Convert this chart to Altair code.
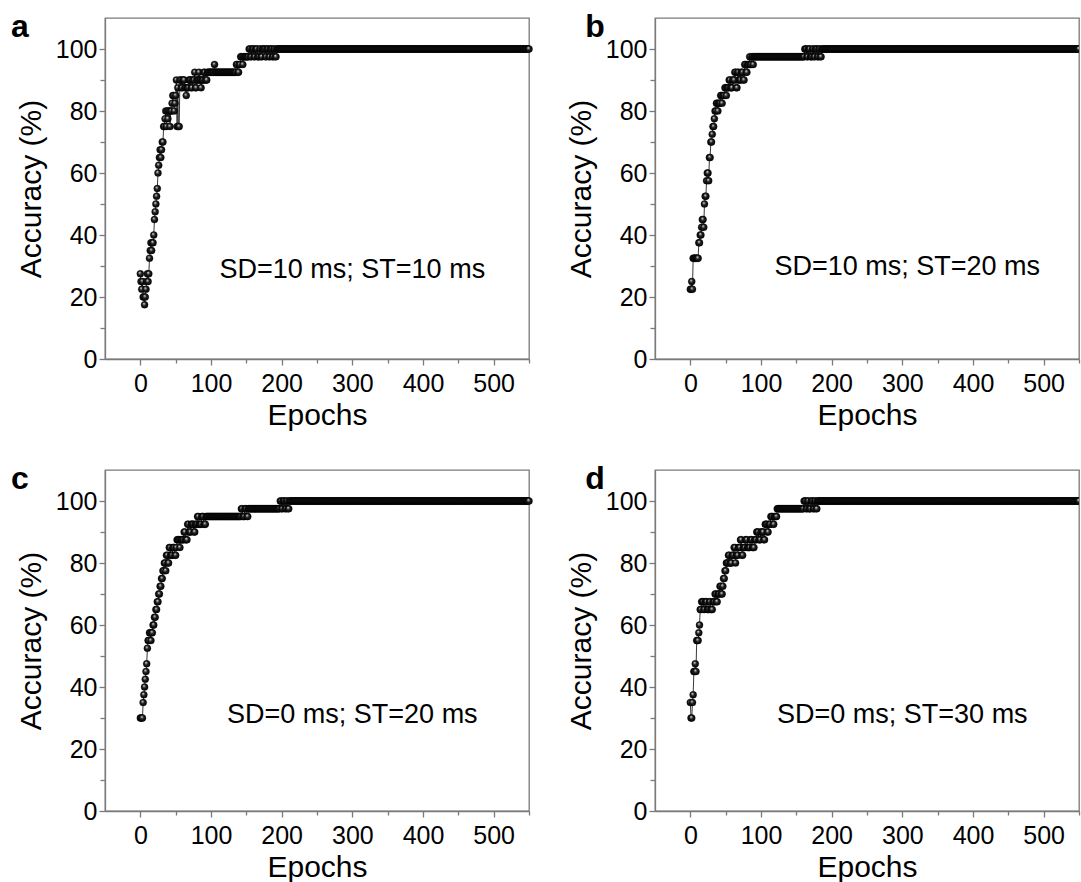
import altair as alt
import pandas as pd

FONT = "Liberation Sans"

# ---- panel a : SD=10 ms; ST=10 ms  (accuracy level, number of consecutive epochs)
a_acc = [27.5, 25, 22.5, 25, 20, 17.5, 20, 22.5, 25, 27.5, 25, 27.5, 32.5, 35, 37.5, 35, 37.5,
         40, 45, 47.5, 50, 52.5, 55, 60, 62.5, 65, 67.5, 65, 67.5, 70, 75,
         77.5, 80, 75, 80, 77.5, 80, 75, 80, 82.5, 85, 80, 82.5, 85,
         90, 75, 87.5, 75, 90, 87.5, 90, 87.5, 85, 87.5, 90, 87.5, 90, 92.5, 87.5, 90, 92.5, 90,
         87.5, 90, 92.5, 90, 92.5,
         92.5, 95, 92.5,
         95, 92.5, 95, 97.5, 95, 97.5,
         100, 97.5, 100, 97.5, 100, 97.5, 100, 97.5, 100, 97.5, 100, 97.5, 100, 97.5, 100, 97.5,
         100]
a_len = [1, 1, 1, 1, 2, 1, 1, 1, 1, 1, 1, 1, 1, 1, 1, 1, 2,
         1, 1, 1, 1, 1, 1, 1, 1, 1, 1, 1, 1, 2, 2,
         1, 1, 1, 1, 1, 2, 1, 2, 1, 2, 1, 1, 1,
         1, 1, 1, 2, 2, 2, 3, 2, 1, 3, 3, 2, 3, 1, 2, 3, 1, 2,
         1, 3, 2, 3, 1,
         9, 1, 30,
         2, 2, 2, 3, 1, 8,
         2, 2, 3, 2, 3, 3, 2, 2, 4, 2, 3, 2, 3, 2, 2, 2,
         358]

# ---- panel b : SD=10 ms; ST=20 ms
b_acc = [22.5, 25, 22.5, 32.5, 37.5, 40, 42.5, 45, 42.5, 50, 52.5, 57.5, 60, 57.5, 65, 70, 72.5,
         75, 77.5, 80, 82.5, 80, 82.5, 85, 82.5, 85, 87.5, 85, 87.5, 90, 87.5, 90, 92.5, 87.5,
         92.5, 90, 92.5, 90, 95, 92.5, 95, 97.5, 95, 97.5, 95, 97.5,
         100, 97.5, 100, 97.5, 100, 97.5, 100, 97.5, 100, 97.5,
         100]
b_len = [2, 1, 1, 8, 2, 2, 1, 2, 1, 1, 2, 1, 2, 1, 2, 2, 1,
         2, 1, 2, 2, 1, 3, 2, 1, 3, 2, 1, 3, 2, 3, 3, 2, 2,
         2, 3, 3, 2, 2, 2, 3, 1, 2, 2, 1, 72,
         3, 2, 3, 3, 2, 2, 3, 2, 2, 2,
         365]

# ---- panel c : SD=0 ms; ST=20 ms
c_acc = [30, 35, 37.5, 40, 42.5, 45, 47.5, 52.5, 55, 57.5, 55, 57.5, 60, 62.5, 65, 67.5, 70,
         72.5, 75, 77.5, 80, 77.5, 82.5, 80, 85, 82.5, 85, 82.5, 85, 87.5, 85, 87.5, 90, 87.5,
         92.5, 90, 92.5, 90, 92.5, 95, 92.5, 95, 92.5, 95,
         97.5, 95, 97.5, 95, 97.5,
         100, 97.5, 100, 97.5, 100, 97.5,
         100]
c_len = [4, 1, 1, 1, 1, 1, 1, 1, 2, 2, 1, 2, 2, 2, 2, 2, 2,
         2, 2, 2, 2, 1, 2, 2, 2, 3, 3, 2, 1, 4, 1, 5, 2, 3,
         2, 3, 4, 2, 3, 2, 4, 3, 3, 50,
         2, 3, 3, 2, 45,
         2, 2, 3, 2, 2, 2,
         340]

# ---- panel d : SD=0 ms; ST=30 ms
d_acc = [35, 30, 35, 37.5, 45, 47.5, 45, 55, 57.5, 60, 65, 67.5, 65, 67.5, 65, 67.5, 65, 67.5,
         70, 67.5, 70, 72.5, 70, 72.5, 75, 77.5, 80, 82.5, 80, 82.5, 85, 80, 82.5, 85, 87.5,
         82.5, 85, 87.5, 85, 87.5, 85, 87.5, 90, 87.5, 90, 87.5, 92.5, 90, 92.5, 95, 92.5, 95,
         97.5,
         100, 97.5, 100, 97.5, 100, 97.5, 100, 97.5,
         100]
d_len = [1, 2, 1, 1, 2, 1, 1, 3, 1, 1, 2, 3, 2, 3, 3, 2, 3, 3,
         2, 2, 3, 2, 2, 1, 2, 2, 3, 2, 3, 3, 2, 1, 3, 3, 2,
         2, 3, 3, 4, 3, 3, 3, 3, 3, 4, 2, 3, 2, 3, 3, 2, 4,
         38,
         3, 2, 2, 3, 3, 2, 2, 2,
         371]

labels = ["SD=10 ms; ST=10 ms", "SD=10 ms; ST=20 ms", "SD=0 ms; ST=20 ms", "SD=0 ms; ST=30 ms"]
label_epoch = [300, 307, 300, 300]
label_acc = [28.8, 29.7, 31, 31]
letters = ["a", "b", "c", "d"]
x_ticks = list(range(0, 551, 50))
y_ticks = list(range(0, 101, 10))

W, H = 424, 341


def expand(vals, lens):
    acc = []
    for v, n in zip(vals, lens):
        acc.extend([v] * n)
    return pd.DataFrame({"epoch": list(range(len(acc))), "acc": acc})


sphere = alt.RadialGradient(
    gradient="radial",
    stops=[alt.GradientStop(offset=0, color="#ffffff"),
           alt.GradientStop(offset=0.18, color="#9a9a9a"),
           alt.GradientStop(offset=0.45, color="#202020"),
           alt.GradientStop(offset=1, color="#000000")],
    x1=0.38, y1=0.32, r1=0, x2=0.5, y2=0.5, r2=0.55,
)


def panel(i, vals, lens, letter_x, clip):
    df = expand(vals, lens)
    x = alt.X("epoch:Q",
              scale=alt.Scale(domain=[-50, 550], nice=False, zero=False),
              axis=alt.Axis(values=x_ticks, title="Epochs",
                            labelExpr="datum.value % 100 === 0 ? datum.label : ''",
                            tickSize={"condition": {"test": "datum.value % 100 !== 0", "value": 4}, "value": 6},
                            labelFlush=False, labelOverlap=False, labelPadding=6, titlePadding=4))
    y = alt.Y("acc:Q",
              scale=alt.Scale(domain=[0, 110], nice=False, zero=False),
              axis=alt.Axis(values=y_ticks, title="Accuracy (%)",
                            labelExpr="datum.value % 20 === 0 ? datum.label : ''",
                            tickSize={"condition": {"test": "datum.value % 20 !== 0", "value": 5}, "value": 6},
                            labelFlush=False, labelOverlap=False, labelPadding=2, titlePadding=9))
    line = alt.Chart(df).mark_line(color="#222222", strokeWidth=0.9, clip=clip).encode(x=x, y=y)
    pts = alt.Chart(df).mark_point(shape="circle", filled=True, size=50, fill=sphere,
                                   stroke="#000000", strokeWidth=0.3, opacity=1,
                                   clip=clip).encode(x=x, y=y)
    tdf = pd.DataFrame({"epoch": [label_epoch[i]], "acc": [label_acc[i]], "t": [labels[i]]})
    txt = alt.Chart(tdf).mark_text(font=FONT, fontSize=27, color="#000000", align="center",
                                   baseline="middle").encode(x=x, y=y, text="t:N")
    ldf = pd.DataFrame({"t": [letters[i]]})
    let = alt.Chart(ldf).mark_text(font=FONT, fontSize=32, fontWeight="bold", color="#000000",
                                   align="center", baseline="middle").encode(
        x=alt.value(letter_x), y=alt.value(9), text="t:N")
    return alt.layer(line, pts, txt, let).properties(width=W, height=H)


pa = panel(0, a_acc, a_len, -85, False)
pb = panel(1, b_acc, b_len, -60, True)
pc = panel(2, c_acc, c_len, -85, False)
pd_ = panel(3, d_acc, d_len, -60, True)

chart = alt.concat(pa, pb, pc, pd_, columns=2,
                   spacing=alt.RowColnumber(row=111, column=126), bounds="flush").properties(
    padding={"left": 10, "top": 10, "right": 0, "bottom": 0},
    background="white"
).configure_view(
    stroke="#7a7a7a", strokeWidth=1.3
).configure_axis(
    grid=False, domainColor="#7a7a7a", domainWidth=1.3, tickColor="#7a7a7a", tickWidth=1.3,
    labelFont=FONT, titleFont=FONT, labelFontSize=25, titleFontSize=30,
    labelColor="#000000", titleColor="#000000", titleFontWeight="normal"
)

chart.save("out.html", embed_options={"renderer": "svg", "actions": False})
